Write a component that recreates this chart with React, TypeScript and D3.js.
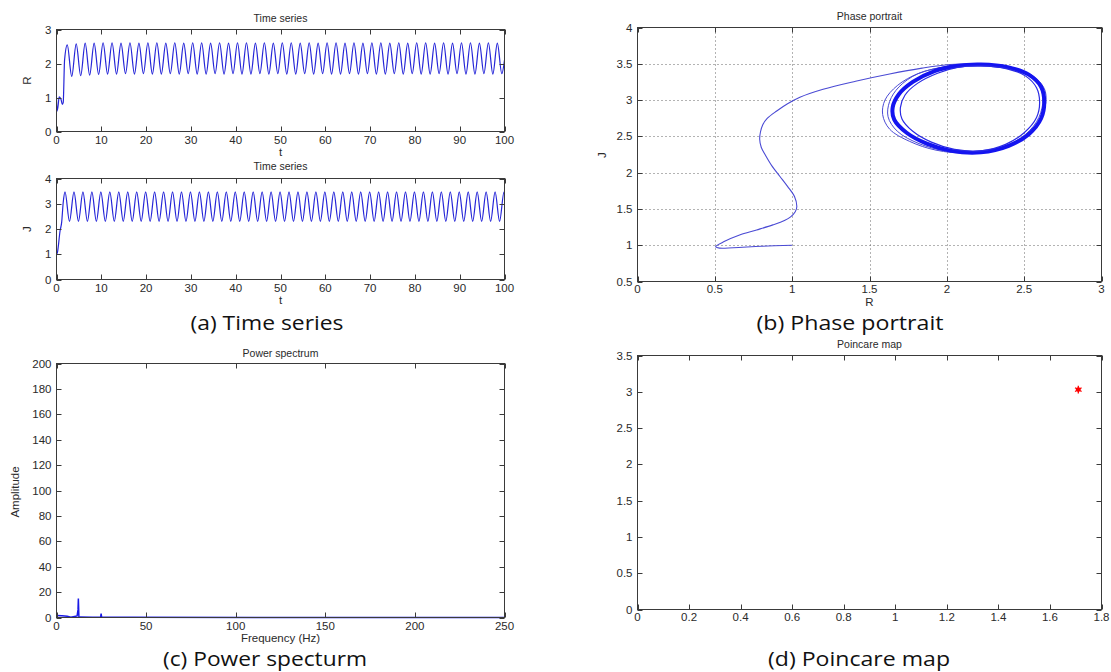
import React from "react";
import * as d3 from "d3";

// ---------- tick labels ----------
const T_TICKS = [0, 10, 20, 30, 40, 50, 60, 70, 80, 90, 100];
const R_TICKS = [0, 1, 2, 3];
const J_TICKS = [0, 1, 2, 3, 4];
const PR_TICKS = [0, 0.5, 1, 1.5, 2, 2.5, 3];
const PJ_TICKS = [0.5, 1, 1.5, 2, 2.5, 3, 3.5, 4];
const F_TICKS = [0, 50, 100, 150, 200, 250];
const A_TICKS = [0, 20, 40, 60, 80, 100, 120, 140, 160, 180, 200];
const PX_TICKS = [0, 0.2, 0.4, 0.6, 0.8, 1, 1.2, 1.4, 1.6, 1.8];
const PY_TICKS = [0, 0.5, 1, 1.5, 2, 2.5, 3, 3.5];

// ---------- time series R (extrema) ----------
const R_T = [
  0, 0.1, 0.35, 0.6, 1.0, 1.3, 1.5, 1.8,
  2.4, 3.4, 4.4, 5.4, 6.4, 7.4, 8.4, 9.4, 10.4, 11.4,
  12.4, 13.4, 14.4, 15.4, 16.4, 17.4, 18.4, 19.4, 20.4, 21.4,
  22.4, 23.4, 24.4, 25.4, 26.4, 27.4, 28.4, 29.4, 30.4, 31.4,
  32.4, 33.4, 34.4, 35.4, 36.4, 37.4, 38.4, 39.4, 40.4, 41.4,
  42.4, 43.4, 44.4, 45.4, 46.4, 47.4, 48.4, 49.4, 50.4, 51.4,
  52.4, 53.4, 54.4, 55.4, 56.4, 57.4, 58.4, 59.4, 60.4, 61.4,
  62.4, 63.4, 64.4, 65.4, 66.4, 67.4, 68.4, 69.4, 70.4, 71.4,
  72.4, 73.4, 74.4, 75.4, 76.4, 77.4, 78.4, 79.4, 80.4, 81.4,
  82.4, 83.4, 84.4, 85.4, 86.4, 87.4, 88.4, 89.4, 90.4, 91.4,
  92.4, 93.4, 94.4, 95.4, 96.4, 97.4, 98.4, 99.4,
  100,
];
const R_V = [
  1.0, 0.6, 0.75, 1.02, 0.95, 0.8, 0.85, 2.1,
  2.55, 1.62, 2.58, 1.64, 2.6, 1.66, 2.6, 1.68, 2.61, 1.69,
  2.61, 1.69, 2.6, 1.7, 2.61, 1.69, 2.6, 1.7, 2.61, 1.69,
  2.61, 1.69, 2.6, 1.7, 2.61, 1.69, 2.6, 1.7, 2.61, 1.69,
  2.61, 1.69, 2.6, 1.7, 2.61, 1.69, 2.6, 1.7, 2.61, 1.69,
  2.61, 1.69, 2.6, 1.7, 2.61, 1.69, 2.6, 1.7, 2.61, 1.69,
  2.61, 1.69, 2.6, 1.7, 2.61, 1.69, 2.6, 1.7, 2.61, 1.69,
  2.61, 1.69, 2.6, 1.7, 2.61, 1.69, 2.6, 1.7, 2.61, 1.69,
  2.61, 1.69, 2.6, 1.7, 2.61, 1.69, 2.6, 1.7, 2.61, 1.69,
  2.61, 1.69, 2.6, 1.7, 2.61, 1.69, 2.6, 1.7, 2.61, 1.69,
  2.61, 1.69, 2.6, 1.7, 2.61, 1.69, 2.6, 1.7,
  2.1,
];

// ---------- time series J ----------
const J_T = [
  0, 0.2, 0.8, 1.15, 1.5,
  1.9, 2.9, 3.9, 4.9, 5.9, 6.9, 7.9, 8.9, 9.9, 10.9,
  11.9, 12.9, 13.9, 14.9, 15.9, 16.9, 17.9, 18.9, 19.9, 20.9,
  21.9, 22.9, 23.9, 24.9, 25.9, 26.9, 27.9, 28.9, 29.9, 30.9,
  31.9, 32.9, 33.9, 34.9, 35.9, 36.9, 37.9, 38.9, 39.9, 40.9,
  41.9, 42.9, 43.9, 44.9, 45.9, 46.9, 47.9, 48.9, 49.9, 50.9,
  51.9, 52.9, 53.9, 54.9, 55.9, 56.9, 57.9, 58.9, 59.9, 60.9,
  61.9, 62.9, 63.9, 64.9, 65.9, 66.9, 67.9, 68.9, 69.9, 70.9,
  71.9, 72.9, 73.9, 74.9, 75.9, 76.9, 77.9, 78.9, 79.9, 80.9,
  81.9, 82.9, 83.9, 84.9, 85.9, 86.9, 87.9, 88.9, 89.9, 90.9,
  91.9, 92.9, 93.9, 94.9, 95.9, 96.9, 97.9, 98.9, 99.9,
  100,
];
const J_V = [
  1.0, 1.07, 1.93, 2.26, 3.05,
  3.47, 2.3, 3.47, 2.3, 3.47, 2.3, 3.47, 2.3, 3.47, 2.3,
  3.47, 2.3, 3.47, 2.3, 3.47, 2.3, 3.47, 2.3, 3.47, 2.3,
  3.47, 2.3, 3.47, 2.3, 3.47, 2.3, 3.47, 2.3, 3.47, 2.3,
  3.47, 2.3, 3.47, 2.3, 3.47, 2.3, 3.47, 2.3, 3.47, 2.3,
  3.47, 2.3, 3.47, 2.3, 3.47, 2.3, 3.47, 2.3, 3.47, 2.3,
  3.47, 2.3, 3.47, 2.3, 3.47, 2.3, 3.47, 2.3, 3.47, 2.3,
  3.47, 2.3, 3.47, 2.3, 3.47, 2.3, 3.47, 2.3, 3.47, 2.3,
  3.47, 2.3, 3.47, 2.3, 3.47, 2.3, 3.47, 2.3, 3.47, 2.3,
  3.47, 2.3, 3.47, 2.3, 3.47, 2.3, 3.47, 2.3, 3.47, 2.3,
  3.47, 2.3, 3.47, 2.3, 3.47, 2.3, 3.47, 2.3, 3.47,
  3.4,
];

// ---------- phase portrait ----------
const PH_TR_R = [1.0, 0.8, 0.62, 0.53, 0.505, 0.56, 0.66, 0.77, 0.875, 0.95, 0.99, 1.02, 1.03, 1.015, 0.97, 0.92, 0.87, 0.83, 0.8, 0.79, 0.795, 0.81, 0.84, 0.9, 0.97, 1.05, 1.2, 1.41, 1.63, 1.84, 2.02, 2.22];
const PH_TR_J = [1.0, 0.985, 0.965, 0.96, 0.98, 1.05, 1.14, 1.21, 1.28, 1.34, 1.39, 1.46, 1.53, 1.67, 1.81, 1.95, 2.09, 2.23, 2.35, 2.46, 2.56, 2.66, 2.75, 2.85, 2.95, 3.04, 3.15, 3.26, 3.36, 3.44, 3.49, 3.5];

const LOOP_WIDE_R = [2.22, 2.42, 2.55, 2.61, 2.62, 2.58, 2.48, 2.32, 2.13, 1.93, 1.76, 1.63, 1.585, 1.6, 1.68, 1.82, 2.02];
const LOOP_WIDE_J = [3.5, 3.45, 3.33, 3.15, 2.95, 2.7, 2.48, 2.33, 2.27, 2.31, 2.43, 2.6, 2.8, 3.0, 3.2, 3.37, 3.47];
const LOOP_MID_R = [2.22, 2.41, 2.55, 2.63, 2.64, 2.6, 2.51, 2.37, 2.19, 1.99, 1.82, 1.68, 1.62, 1.63, 1.69, 1.81, 2.0];
const LOOP_MID_J = [3.49, 3.45, 3.34, 3.16, 2.96, 2.72, 2.5, 2.34, 2.27, 2.3, 2.4, 2.57, 2.77, 2.98, 3.18, 3.36, 3.46];
const LOOP_MAIN_R = [2.22, 2.4, 2.53, 2.61, 2.63, 2.61, 2.53, 2.4, 2.22, 2.03, 1.87, 1.74, 1.66, 1.65, 1.69, 1.78, 1.92, 2.06];
const LOOP_MAIN_J = [3.49, 3.45, 3.35, 3.18, 2.97, 2.75, 2.53, 2.37, 2.28, 2.3, 2.4, 2.55, 2.73, 2.9, 3.08, 3.25, 3.4, 3.47];
const LOOP_IN_R = [2.22, 2.39, 2.51, 2.58, 2.6, 2.58, 2.5, 2.38, 2.22, 2.05, 1.9, 1.78, 1.71, 1.7, 1.73, 1.81, 1.94, 2.07];
const LOOP_IN_J = [3.47, 3.43, 3.33, 3.17, 2.97, 2.76, 2.55, 2.39, 2.3, 2.32, 2.42, 2.57, 2.74, 2.9, 3.07, 3.23, 3.37, 3.45];

// ---------- power spectrum ----------
const FREQ = [0, 3, 6, 8, 10, 11.5, 12.0, 12.2, 12.5, 13, 20, 24.6, 24.9, 25.2, 40, 250];
const AMP = [1.5, 1.3, 1.0, 0.3, 0.8, 1.2, 6, 15, 0.5, 0.3, 0.2, 0.2, 3, 0.2, 0.1, 0.05];

// ---------- Poincare map ----------
const PC_X = [1.71];
const PC_Y = [3.03];

const FONT = "'Liberation Sans', Arial, Helvetica, sans-serif";
const CAP_FONT = "'Open Sans', 'Noto Sans', sans-serif";
const AXIS_COLOR = "#3a3a3a";
const TEXT_COLOR = "#2a2a2a";

const fmt = (v: number) => String(+v.toFixed(2));

type AxesProps = {
  left: number; top: number; width: number; height: number;
  xDomain: [number, number]; yDomain: [number, number];
  xTicks: number[]; yTicks: number[];
  grid?: boolean;
  title: string; titleY: number;
  xlabel?: string; xlabelY?: number;
  ylabel?: string; ylabelX?: number; ylabelY?: number;
  tickLabelY: number;
  children: (x: d3.ScaleLinear<number, number>, y: d3.ScaleLinear<number, number>) => React.ReactNode;
};

function Axes(p: AxesProps) {
  const x = d3.scaleLinear().domain(p.xDomain).range([p.left, p.left + p.width]);
  const y = d3.scaleLinear().domain(p.yDomain).range([p.top + p.height, p.top]);
  const TL = 5;
  const x0 = p.left, x1 = p.left + p.width, y0 = p.top + p.height, y1 = p.top;
  const clipId = `clip-${Math.round(p.left)}-${Math.round(p.top)}`;
  return (
    <g>
      <defs>
        <clipPath id={clipId}>
          <rect x={x0} y={y1 - 2} width={p.width} height={p.height + 4} />
        </clipPath>
      </defs>
      <rect x={x0} y={y1} width={p.width} height={p.height} fill="#fff" />
      {p.grid && (
        <g stroke="#666" strokeWidth={1} strokeDasharray="1,3">
          {p.xTicks.filter((t) => t !== p.xDomain[0] && t !== p.xDomain[1]).map((t) => (
            <line key={"gx" + t} x1={Math.round(x(t)) + 0.5} x2={Math.round(x(t)) + 0.5} y1={y0} y2={y1} />
          ))}
          {p.yTicks.filter((t) => t !== p.yDomain[0] && t !== p.yDomain[1]).map((t) => (
            <line key={"gy" + t} y1={Math.round(y(t)) + 0.5} y2={Math.round(y(t)) + 0.5} x1={x0} x2={x1} />
          ))}
        </g>
      )}
      <g clipPath={`url(#${clipId})`}>{p.children(x, y)}</g>
      <rect x={x0} y={y1} width={p.width} height={p.height} fill="none" stroke={AXIS_COLOR} strokeWidth={1} />
      <g stroke={AXIS_COLOR} strokeWidth={1}>
        {p.xTicks.map((t) => (
          <g key={"tx" + t}>
            <line x1={Math.round(x(t)) + 0.5} x2={Math.round(x(t)) + 0.5} y1={y0} y2={y0 - TL} />
            <line x1={Math.round(x(t)) + 0.5} x2={Math.round(x(t)) + 0.5} y1={y1} y2={y1 + TL} />
          </g>
        ))}
        {p.yTicks.map((t) => (
          <g key={"ty" + t}>
            <line y1={Math.round(y(t)) + 0.5} y2={Math.round(y(t)) + 0.5} x1={x0} x2={x0 + TL} />
            <line y1={Math.round(y(t)) + 0.5} y2={Math.round(y(t)) + 0.5} x1={x1} x2={x1 - TL} />
          </g>
        ))}
      </g>
      <g fontFamily={FONT} fontSize={11.5} fill={TEXT_COLOR}>
        {p.xTicks.map((t) => (
          <text key={"lx" + t} x={x(t)} y={p.tickLabelY} textAnchor="middle" dominantBaseline="central">{fmt(t)}</text>
        ))}
        {p.yTicks.map((t) => (
          <text key={"ly" + t} x={x0 - 5} y={y(t)} textAnchor="end" dominantBaseline="central">{fmt(t)}</text>
        ))}
      </g>
      <text x={(x0 + x1) / 2} y={p.titleY} textAnchor="middle" dominantBaseline="central" fontFamily={FONT} fontSize={10.5} fill={TEXT_COLOR}>{p.title}</text>
      {p.xlabel && (
        <text x={(x0 + x1) / 2} y={p.xlabelY} textAnchor="middle" dominantBaseline="central" fontFamily={FONT} fontSize={11.5} fill={TEXT_COLOR}>{p.xlabel}</text>
      )}
      {p.ylabel && (
        <text transform={`translate(${p.ylabelX},${p.ylabelY ?? (y0 + y1) / 2}) rotate(-90)`} textAnchor="middle" dominantBaseline="central" fontFamily={FONT} fontSize={11.5} fill={TEXT_COLOR}>{p.ylabel}</text>
      )}
    </g>
  );
}

function Caption({ x, y, text, w }: { x: number; y: number; text: string; w: number }) {
  return (
    <text x={x} y={y} textAnchor="middle" fontFamily={CAP_FONT} fontSize={20} fill="#111"
      textLength={w} lengthAdjust="spacingAndGlyphs">{text}</text>
  );
}

const BLUE = "#2626d8";

export default function App() {
  const zip = (a: number[], b: number[]) => a.map((v, i) => [v, b[i]] as [number, number]);
  return (
    <svg width={1111} height={672} style={{ position: "absolute", left: 0, top: 0, background: "#fff" }}>
      <rect x={0} y={0} width={1111} height={672} fill="#fff" />
      {/* (a) R */}
      <Axes left={56.5} top={29.5} width={448} height={102} xDomain={[0, 100]} yDomain={[0, 3]}
        xTicks={T_TICKS} yTicks={R_TICKS} title="Time series" titleY={18} xlabel="t" xlabelY={152}
        ylabel="R" ylabelX={27} tickLabelY={140}>
        {(x, y) => {
          const line = d3.line<[number, number]>().x((d) => x(d[0])).y((d) => y(d[1])).curve(d3.curveMonotoneX);
          return <path d={line(zip(R_T, R_V)) || ""} fill="none" stroke={BLUE} strokeWidth={1.2} />;
        }}
      </Axes>
      {/* (a) J */}
      <Axes left={56.5} top={178.5} width={448} height={101} xDomain={[0, 100]} yDomain={[0, 4]}
        xTicks={T_TICKS} yTicks={J_TICKS} title="Time series" titleY={166} xlabel="t" xlabelY={300}
        ylabel="J" ylabelX={27} tickLabelY={288}>
        {(x, y) => {
          const line = d3.line<[number, number]>().x((d) => x(d[0])).y((d) => y(d[1])).curve(d3.curveMonotoneX);
          return <path d={line(zip(J_T, J_V)) || ""} fill="none" stroke={BLUE} strokeWidth={1.2} />;
        }}
      </Axes>
      <Caption x={267} y={330} w={153} text="(a) Time series" />

      {/* (b) Phase portrait */}
      <Axes left={637.5} top={27.5} width={464} height={254} xDomain={[0, 3]} yDomain={[0.5, 4]}
        xTicks={PR_TICKS} yTicks={PJ_TICKS} grid title="Phase portrait" titleY={16} xlabel="R" xlabelY={302}
        ylabel="J" ylabelX={602} ylabelY={155} tickLabelY={289}>
        {(x, y) => {
          const open = d3.line<[number, number]>().x((d) => x(d[0])).y((d) => y(d[1])).curve(d3.curveCatmullRom.alpha(0.5));
          const closed = d3.line<[number, number]>().x((d) => x(d[0])).y((d) => y(d[1])).curve(d3.curveCatmullRomClosed.alpha(0.5));
          return (
            <g fill="none">
              <path d={open(zip(PH_TR_R, PH_TR_J)) || ""} stroke="#4a4ad4" strokeWidth={1.1} />
              <path d={closed(zip(LOOP_WIDE_R, LOOP_WIDE_J)) || ""} stroke="#4a4ad4" strokeWidth={1} />
              <path d={closed(zip(LOOP_MID_R, LOOP_MID_J)) || ""} stroke="#4a4ad4" strokeWidth={1} />
              <path d={closed(zip(LOOP_MAIN_R, LOOP_MAIN_J)) || ""} stroke="#1414f0" strokeWidth={4} />
              <path d={closed(zip(LOOP_IN_R, LOOP_IN_J)) || ""} stroke="#2a2ae4" strokeWidth={1.2} />
            </g>
          );
        }}
      </Axes>
      <Caption x={850} y={330} w={187} text="(b) Phase portrait" />

      {/* (c) Power spectrum */}
      <Axes left={56.5} top={363.5} width={448} height={254} xDomain={[0, 250]} yDomain={[0, 200]}
        xTicks={F_TICKS} yTicks={A_TICKS} title="Power spectrum" titleY={353} xlabel="Frequency (Hz)" xlabelY={638}
        ylabel="Amplitude" ylabelX={15} ylabelY={492} tickLabelY={626}>
        {(x, y) => {
          const line = d3.line<[number, number]>().x((d) => x(d[0])).y((d) => y(d[1]));
          return <path d={line(zip(FREQ, AMP)) || ""} fill="none" stroke="#1a1ae6" strokeWidth={1.5} />;
        }}
      </Axes>
      <Caption x={265} y={666} w={204} text="(c) Power specturm" />

      {/* (d) Poincare map */}
      <Axes left={637.5} top={355.5} width={464} height={254} xDomain={[0, 1.8]} yDomain={[0, 3.5]}
        xTicks={PX_TICKS} yTicks={PY_TICKS} title="Poincare map" titleY={344} tickLabelY={617}>
        {(x, y) => {
          const sym = (d3 as any).symbolAsterisk || d3.symbolCross;
          const path = d3.symbol().type(sym).size(40)() || "";
          return (
            <g>
              {PC_X.map((v, i) => (
                <g key={i} transform={`translate(${x(v)},${y(PC_Y[i])})`}>
                  <path d={path} fill="none" stroke="#ff0000" strokeWidth={1.3} />
                  <circle r={2.4} fill="#ff0000" />
                </g>
              ))}
            </g>
          );
        }}
      </Axes>
      <Caption x={859} y={666} w={182} text="(d) Poincare map" />
    </svg>
  );
}
